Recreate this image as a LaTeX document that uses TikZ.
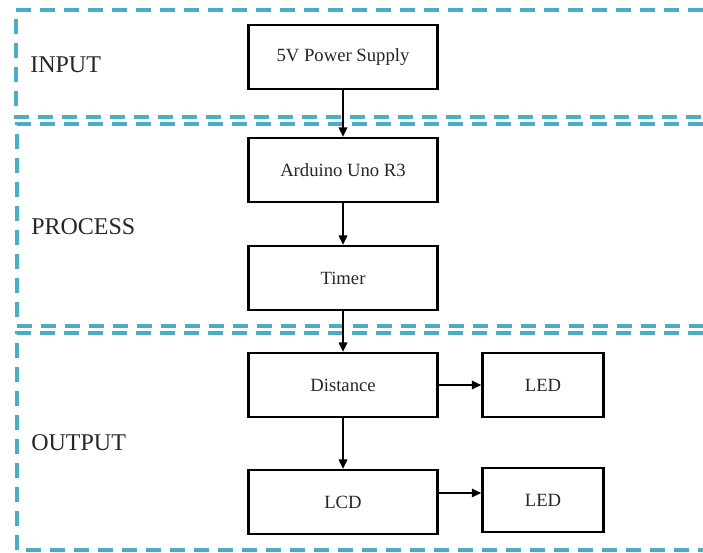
\documentclass[tikz,border=0pt]{standalone}
\usepackage{fontspec}
\setmainfont{Liberation Serif}
\usetikzlibrary{arrows.meta}
\definecolor{regionblue}{HTML}{4BACC6}
\begin{document}
\begin{tikzpicture}[x=0.75pt,y=-0.75pt,
  block/.style={draw,line width=1.8pt,minimum width=142pt,minimum height=48pt,inner sep=0pt,font=\fontsize{14}{16}\selectfont,text=black!85},
  ledbox/.style={block,minimum width=91pt},
  region/.style={draw=regionblue,line width=2.6pt,dash pattern=on 11pt off 7pt},
  regionlabel/.style={anchor=west,inner sep=0pt,font=\fontsize{18}{20}\selectfont,text=black!85},
  flow/.style={line width=0.9pt,-{Triangle[length=7pt,width=6.5pt]}}]
  \useasboundingbox (0,0) rectangle (703,553);
  % dashed regions
  \draw[region] (703,10) -- (16,10) -- (16,117) -- (703,117);
  \draw[region] (703,124) -- (17,124) -- (17,326) -- (703,326);
  \draw[region] (703,333) -- (17,333) -- (17,550) -- (703,550);
  \node[regionlabel] (input) at (30,65) {INPUT};
  \node[regionlabel] (process) at (31,227) {PROCESS};
  \node[regionlabel] (output) at (31,443) {OUTPUT};
  % blocks
  \node[block] (power) at (343,57) {5V Power Supply};
  \node[block] (arduino) at (343,170) {Arduino Uno R3};
  \node[block] (timer) at (343,278) {Timer};
  \node[block] (distance) at (343,385) {Distance};
  \node[block] (lcd) at (343,502) {LCD};
  \node[ledbox] (led1) at (543,385) {LED};
  \node[ledbox] (led2) at (543,500) {LED};
  % connectors
  \draw[flow] (power) -- (arduino);
  \draw[flow] (arduino) -- (timer);
  \draw[flow] (timer) -- (distance);
  \draw[flow] (distance) -- (lcd);
  \draw[flow] (distance) -- (led1);
  \draw[flow] (lcd.east) ++(0,-9) -- (led2.west |- 0,493);
\end{tikzpicture}
\end{document}
